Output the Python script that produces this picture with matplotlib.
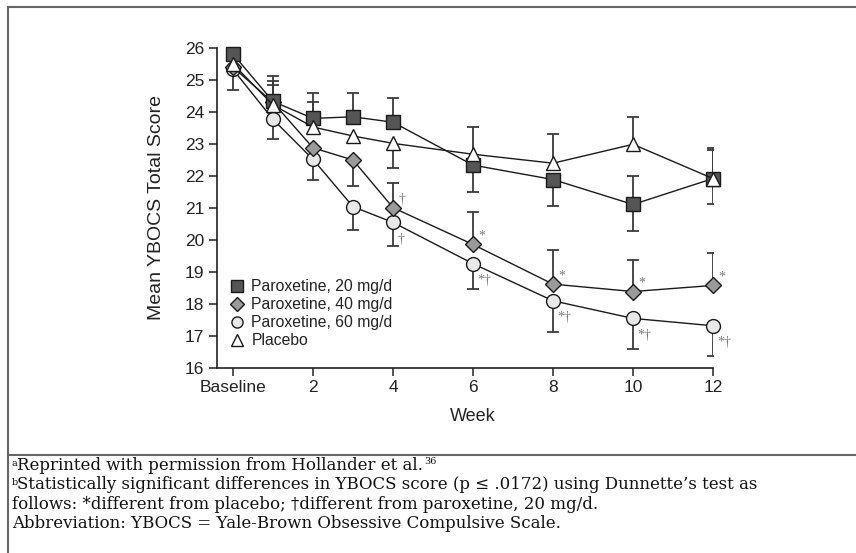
import matplotlib
matplotlib.use('Agg')
import matplotlib.pyplot as plt
import numpy as np
from matplotlib.lines import Line2D

plt.rcParams['font.family'] = ['Liberation Sans', 'DejaVu Sans']

nan = np.nan
weeks = [0, 1, 2, 3, 4, 6, 8, 10, 12]
tick_weeks = [0, 2, 4, 6, 8, 10, 12]
tick_labels = ['Baseline', '2', '4', '6', '8', '10', '12']

# means
p20 = [25.81, 24.33, 23.80, 23.85, 23.68, 22.34, 21.89, 21.11, 21.92]
p40 = [25.40, 24.30, 22.88, 22.50, 21.01, 19.86, 18.62, 18.39, 18.58]
p60 = [25.33, 23.77, 22.52, 21.04, 20.55, 19.26, 18.10, 17.55, 17.32]
placebo = [25.50, 24.22, 23.53, 23.25, 23.02, 22.68, 22.40, 22.99, 21.92]

# error bar ends (nan = not drawn)
p20_up = [nan, 25.14, 24.58, 24.58, 24.43, nan, nan, 22.01, 22.87]
p20_dn = [nan, nan, nan, nan, nan, 21.49, 21.06, 20.29, nan]
p40_up = [nan, 24.98, nan, nan, 21.79, 20.87, 19.69, 19.38, 19.59]
p40_dn = [nan, nan, nan, 21.70, nan, nan, nan, nan, nan]
p60_dn = [24.69, 23.17, 21.88, 20.31, 19.82, 18.47, 17.12, 16.59, 16.38]
pla_up = [nan, 24.84, 24.32, nan, nan, 23.54, 23.31, 23.85, 22.81]
pla_dn = [nan, nan, nan, nan, 22.24, nan, nan, nan, 21.12]

sig40 = ['', '', '', '', '\u2020', '*', '*', '*', '*']
sig60 = ['', '', '', '', '\u2020', '*\u2020', '*\u2020', '*\u2020', '*\u2020']

labels = ['Paroxetine, 20 mg/d', 'Paroxetine, 40 mg/d', 'Paroxetine, 60 mg/d', 'Placebo']

bar_col = '#3a3a3a'
line_col = '#1a1a1a'

fig = plt.figure(figsize=(8.56, 5.53), dpi=100)
ax = fig.add_axes([217/856, 1-368/553, 496/856, 320/553])


def bars(means, ends):
    x = [w for w, e in zip(weeks, ends) if not np.isnan(e)]
    y0 = [m for m, e in zip(means, ends) if not np.isnan(e)]
    y1 = [e for e in ends if not np.isnan(e)]
    ax.vlines(x, y0, y1, color=bar_col, lw=1.3, zorder=2)
    ax.plot(x, y1, ls='none', marker='_', ms=8, mew=1.3, color=bar_col, zorder=2)


for means, ends in [(p20, p20_up), (p20, p20_dn), (p40, p40_up), (p40, p40_dn),
                    (p60, p60_dn), (placebo, pla_up), (placebo, pla_dn)]:
    bars(means, ends)

style = dict(color=line_col, lw=1.0, mec=line_col, mew=1.0, clip_on=False)
ax.plot(weeks, p60, marker='o', ms=10, mfc='#e8e8e8', zorder=3, **style)
ax.plot(weeks, p40, marker='D', ms=8.5, mfc='#9a9a9a', zorder=4, **style)
ax.plot(weeks, p20, marker='s', ms=9.5, mfc='#555555', zorder=5, **style)
ax.plot(weeks, placebo, marker='^', ms=10, mfc='white', zorder=6, **style)

for w, v, s in zip(weeks, p40, sig40):
    if s:
        ax.annotate(s, (w, v), xytext=(4, 6), textcoords='offset points',
                    ha='left', va='center', fontsize=10, color='#7a7a7a',
                    family='Liberation Serif')
for w, v, s in zip(weeks, p60, sig60):
    if s:
        ax.annotate(s, (w, v), xytext=(3, -12), textcoords='offset points',
                    ha='left', va='center', fontsize=10, color='#7a7a7a',
                    family='Liberation Serif')

ax.set_xlim(-0.4, 12)
ax.set_ylim(16, 26)
ax.set_xticks(tick_weeks)
ax.set_xticklabels(tick_labels)
ax.set_yticks(range(16, 27))
for s in ['top', 'right']:
    ax.spines[s].set_visible(False)
for s in ['left', 'bottom']:
    ax.spines[s].set_color('#222222')
    ax.spines[s].set_linewidth(1.2)
ax.tick_params(direction='out', length=6, width=1.1, color='#222222',
               labelsize=12.5, labelcolor='#222222', pad=3)
ax.set_ylabel('Mean YBOCS Total Score', fontsize=14, color='#222222')
ax.yaxis.set_label_coords(-0.105, 0.5)
ax.set_xlabel('Week', fontsize=13, color='#222222')
ax.xaxis.set_label_coords(0.516, -0.125)

leg_handles = [Line2D([], [], ls='none', marker=m, ms=ms, mfc=fc, mec=line_col, mew=1.0)
               for m, ms, fc in [('s', 8, '#555555'), ('D', 7, '#9a9a9a'),
                                 ('o', 8, '#e8e8e8'), ('^', 8, 'white')]]
ax.legend(leg_handles, labels, loc='upper left', bbox_to_anchor=(0.028, 0.277),
          frameon=False, fontsize=11.3, handlelength=0.8, handletextpad=0.5,
          labelspacing=0.19, borderpad=0, borderaxespad=0, labelcolor='#222222')

# frame around the figure
frame_col = '#666666'
fig.add_artist(Line2D([8/856, 8/856], [0, 1-7/553], transform=fig.transFigure,
                      color=frame_col, lw=1.5))
fig.add_artist(Line2D([8/856, 1], [1-7/553, 1-7/553], transform=fig.transFigure,
                      color=frame_col, lw=1.5))
fig.add_artist(Line2D([8/856, 1], [1-455/553, 1-455/553], transform=fig.transFigure,
                      color=frame_col, lw=1.5))

# footnotes: superscript markers as separate small texts
note_marks = ['a', 'b', '', '']
notes = [
    'Reprinted with permission from Hollander et al.',
    'Statistically significant differences in YBOCS score (p \u2264 .0172) using Dunnette\u2019s test as',
    'follows: *different from placebo; \u2020different from paroxetine, 20 mg/d.',
    'Abbreviation: YBOCS = Yale-Brown Obsessive Compulsive Scale.',
]
note_font = dict(family='DejaVu Serif', color='#111111')
for i, (m, t) in enumerate(zip(note_marks, notes)):
    y = 1 - (470 + 19.4*i)/553
    x0 = 12/856
    if m:
        fig.text(x0, y + 4.5/553, m, ha='left', va='baseline', fontsize=7, **note_font)
        x0 = 17/856
    txt = fig.text(x0, y, t, ha='left', va='baseline', fontsize=12, **note_font)
    if i == 0:
        fig.canvas.draw()
        bb = txt.get_window_extent()
        fig.text(bb.x1/856 + 1/856, y + 6/553, '36', ha='left', va='baseline',
                 fontsize=7, **note_font)

fig.savefig('out.png', dpi=100)
